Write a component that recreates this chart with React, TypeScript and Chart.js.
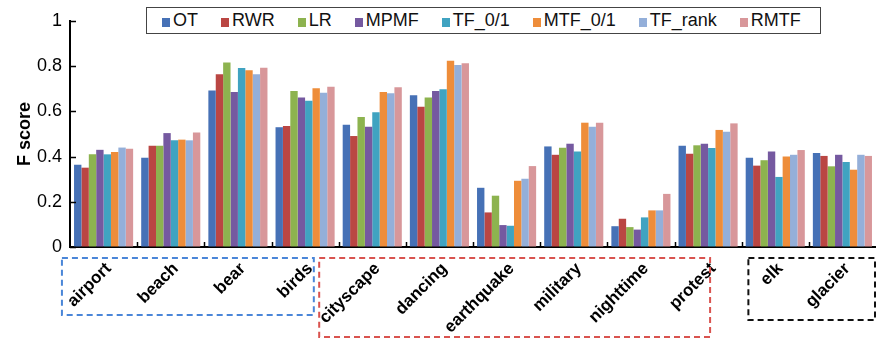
import React, { useEffect, useRef } from "react";
import { Chart, registerables } from "chart.js";

Chart.register(...registerables);

const categories = ["airport", "beach", "bear", "birds", "cityscape", "dancing", "earthquake", "military", "nighttime", "protest", "elk", "glacier"];
const seriesNames = ["OT", "RWR", "LR", "MPMF", "TF_0/1", "MTF_0/1", "TF_rank", "RMTF"];
const OT = [0.364, 0.395, 0.692, 0.530, 0.541, 0.671, 0.262, 0.445, 0.092, 0.448, 0.395, 0.416];
const RWR = [0.351, 0.448, 0.764, 0.535, 0.491, 0.621, 0.153, 0.408, 0.125, 0.413, 0.360, 0.403];
const LR = [0.410, 0.448, 0.816, 0.690, 0.575, 0.662, 0.227, 0.439, 0.088, 0.450, 0.384, 0.357];
const MPMF = [0.430, 0.504, 0.686, 0.662, 0.532, 0.690, 0.097, 0.457, 0.077, 0.457, 0.423, 0.408];
const TF01 = [0.410, 0.472, 0.792, 0.647, 0.596, 0.698, 0.094, 0.423, 0.131, 0.438, 0.310, 0.376];
const MTF01 = [0.420, 0.475, 0.782, 0.702, 0.686, 0.824, 0.293, 0.550, 0.162, 0.518, 0.400, 0.342];
const TFrank = [0.440, 0.472, 0.764, 0.683, 0.680, 0.805, 0.302, 0.532, 0.162, 0.510, 0.408, 0.408];
const RMTF = [0.435, 0.507, 0.793, 0.709, 0.707, 0.813, 0.358, 0.550, 0.235, 0.547, 0.429, 0.403];
const seriesValues = [OT, RWR, LR, MPMF, TF01, MTF01, TFrank, RMTF];
const yTicks = [0, 0.2, 0.4, 0.6, 0.8, 1];
const yTickLabels = ["0", "0.2", "0.4", "0.6", "0.8", "1"];

// groups of categories outlined by dashed boxes (first/last category index)
const groupFirst = [0, 4, 10];
const groupLast = [3, 9, 11];

// styling (kept separate from data)
const COLORS = ["#4671B6", "#BA4643", "#8DB34F", "#7559A0", "#40A3C1", "#EE8D3A", "#94AFD9", "#D8979A"];
const BOX_COLORS = ["#4A86D8", "#D9534F", "#111111"];
const BOX_EXT_LEFT = [0.62, 0.79, 0.4];
const BOX_EXT_RIGHT = [0.13, 0.03, 0.49];
const BOX_TOP = 11;
const BOX_BOTTOM = [68, 90, 73];
const FONT = "'Liberation Sans', Arial, Helvetica, sans-serif";

const decorPlugin = {
  id: "decor",
  afterDraw(chart: any) {
    const { ctx, chartArea, scales } = chart;
    const x = scales.x;
    const y = scales.y;
    ctx.save();
    ctx.strokeStyle = "#000";
    ctx.lineWidth = 1.5;
    ctx.beginPath();
    for (let i = 1; i < categories.length; i++) {
      const px = Math.round((x.getPixelForValue(i - 1) + x.getPixelForValue(i)) / 2) + 0.5;
      ctx.moveTo(px, chartArea.bottom);
      ctx.lineTo(px, chartArea.bottom - 5);
    }
    yTicks.forEach((v) => {
      const py = Math.round(y.getPixelForValue(v)) + 0.5;
      ctx.moveTo(chartArea.left, py);
      ctx.lineTo(chartArea.left + 6, py);
    });
    ctx.stroke();

    // rotated category labels
    ctx.fillStyle = "#000";
    ctx.font = "bold 17px " + FONT;
    ctx.textAlign = "right";
    ctx.textBaseline = "middle";
    categories.forEach((c, i) => {
      const px = x.getPixelForValue(i) + 5;
      const py = chartArea.bottom + 19;
      ctx.save();
      ctx.translate(px, py);
      ctx.rotate(-Math.PI / 4);
      ctx.fillText(c, 0, 0);
      ctx.restore();
    });

    const step = x.getPixelForValue(1) - x.getPixelForValue(0);
    ctx.lineWidth = 2;
    ctx.setLineDash([6, 4]);
    for (let g = 0; g < groupFirst.length; g++) {
      const left = x.getPixelForValue(groupFirst[g]) - BOX_EXT_LEFT[g] * step;
      const right = Math.min(x.getPixelForValue(groupLast[g]) + BOX_EXT_RIGHT[g] * step, chart.width - 1);
      const top = chartArea.bottom + BOX_TOP;
      const bottom = Math.min(chartArea.bottom + BOX_BOTTOM[g], chart.height - 1);
      ctx.strokeStyle = BOX_COLORS[g];
      ctx.strokeRect(left, top, right - left, bottom - top);
    }
    ctx.restore();
  },
};

export default function App() {
  const canvasRef = useRef<HTMLCanvasElement | null>(null);

  useEffect(() => {
    if (!canvasRef.current) return;
    Chart.defaults.font.family = FONT;
    const chart = new Chart(canvasRef.current, {
      type: "bar",
      data: {
        labels: categories,
        datasets: seriesNames.map((name, i) => ({
          label: name,
          data: seriesValues[i],
          backgroundColor: COLORS[i],
          borderWidth: 0,
          barPercentage: 1.0,
          categoryPercentage: 0.88,
        })),
      },
      options: {
        animation: false,
        responsive: true,
        maintainAspectRatio: false,
        layout: { padding: { top: 21, right: 0, left: 0, bottom: 0 } },
        plugins: { legend: { display: false }, tooltip: { enabled: false } },
        scales: {
          x: {
            offset: true,
            grid: { display: true, drawOnChartArea: false, drawTicks: false },
            border: { display: true, color: "#000", width: 2 },
            ticks: { display: false },
            afterFit: (s: any) => {
              s.height = 91;
            },
          },
          y: {
            min: 0,
            max: 1,
            grid: { display: true, drawOnChartArea: false, drawTicks: false },
            border: { display: true, color: "#000", width: 2 },
            afterBuildTicks: (s: any) => {
              s.ticks = yTicks.map((v) => ({ value: v }));
            },
            ticks: {
              color: "#000",
              font: { size: 18 },
              padding: 8,
              callback: (v: any) => {
                const idx = yTicks.findIndex((t) => Math.abs(t - Number(v)) < 1e-9);
                return idx >= 0 ? yTickLabels[idx] : "";
              },
            },
            title: {
              display: true,
              text: "F score",
              color: "#000",
              font: { size: 18, weight: "bold" },
              padding: { top: 14, bottom: 0 },
            },
            afterFit: (s: any) => {
              s.width = 70;
            },
          },
        },
      },
      plugins: [decorPlugin],
    });
    return () => chart.destroy();
  }, []);

  return (
    <div style={{ position: "fixed", left: 0, top: 0, width: 876, height: 338, background: "#fff" }}>
      <canvas ref={canvasRef} />
      <div
        style={{
          position: "absolute",
          left: 146,
          top: 7,
          width: 675,
          height: 27,
          boxSizing: "border-box",
          border: "1.5px solid #444",
          background: "#fff",
          display: "flex",
          alignItems: "center",
          paddingLeft: 15,
          fontFamily: FONT,
          fontSize: 18,
          color: "#111",
          whiteSpace: "nowrap",
        }}
      >
        {seriesNames.map((name, i) => (
          <span key={name} style={{ display: "inline-flex", alignItems: "center", marginRight: 23 }}>
            <span style={{ display: "inline-block", width: 8, height: 9, background: COLORS[i], marginRight: 3, marginTop: 3 }} />
            <span>{name}</span>
          </span>
        ))}
      </div>
    </div>
  );
}
